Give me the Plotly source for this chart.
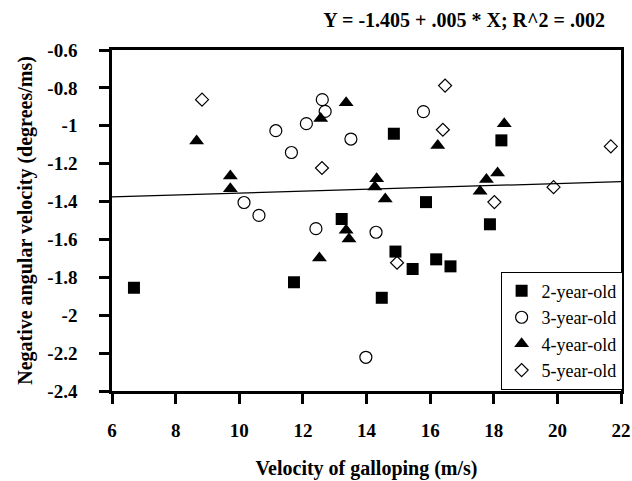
import plotly.graph_objects as go

# 2-year-old
x2 = [6.69, 11.72, 13.22, 14.86, 14.91, 14.48, 15.45, 15.87, 16.19, 16.64, 17.88, 18.24]
y2 = [-1.855, -1.826, -1.492, -1.042, -1.664, -1.908, -1.756, -1.403, -1.705, -1.742, -1.520, -1.077]
# 3-year-old
x3 = [10.15, 10.62, 11.15, 11.64, 12.11, 12.41, 12.61, 12.70, 13.51, 13.98, 14.30, 15.79]
y3 = [-1.405, -1.473, -1.026, -1.141, -0.989, -1.543, -0.862, -0.924, -1.070, -2.222, -1.562, -0.925]
# 4-year-old
x4 = [8.66, 9.72, 9.72, 12.52, 12.56, 13.36, 13.36, 13.45, 14.32, 14.26, 14.59, 16.24, 17.57, 17.77, 18.12, 18.33]
y4 = [-1.080, -1.265, -1.332, -1.698, -0.961, -0.878, -1.552, -1.598, -1.279, -1.323, -1.386, -1.104, -1.346, -1.284, -1.249, -0.989]
# 5-year-old
x5 = [8.83, 12.60, 14.96, 16.47, 16.40, 18.02, 19.88, 21.68]
y5 = [-0.862, -1.223, -1.723, -0.788, -1.021, -1.403, -1.324, -1.109]

intercept = -1.405
slope = 0.005
line_x = [6, 22]

x_ticks = [6, 8, 10, 12, 14, 16, 18, 20, 22]
y_ticks = [-0.6, -0.8, -1.0, -1.2, -1.4, -1.6, -1.8, -2.0, -2.2, -2.4]
y_ticktext = ["-0.6", "-0.8", "-1", "-1.2", "-1.4", "-1.6", "-1.8", "-2", "-2.2", "-2.4"]

serif = "Liberation Serif"

fig = go.Figure()
fig.add_trace(go.Scatter(x=line_x, y=[intercept + slope * v for v in line_x], mode="lines",
                         line=dict(color="black", width=1.3), showlegend=False, hoverinfo="skip"))
fig.add_trace(go.Scatter(x=x2, y=y2, mode="markers", name="2-year-old",
                         marker=dict(symbol="square", size=12, color="black")))
fig.add_trace(go.Scatter(x=x3, y=y3, mode="markers", name="3-year-old",
                         marker=dict(symbol="circle-open", size=12, color="black", line=dict(width=1.2))))
fig.add_trace(go.Scatter(x=x4, y=y4, mode="markers", name="4-year-old",
                         marker=dict(symbol="triangle-up", size=13, color="black")))
fig.add_trace(go.Scatter(x=x5, y=y5, mode="markers", name="5-year-old",
                         marker=dict(symbol="diamond-open", size=10, color="black", line=dict(width=1.2))))

fig.update_layout(
    width=632, height=481,
    margin=dict(l=112, r=10, t=50, b=90),
    plot_bgcolor="white", paper_bgcolor="white",
    font=dict(family=serif, color="black", size=16),
    title=dict(text="<b>Y = -1.405 + .005 * X; R^2 = .002</b>", x=605 / 632, xanchor="right",
               xref="container", y=1 - 20 / 481, yanchor="middle", yref="container",
               font=dict(family=serif, size=20, color="black")),
    showlegend=True,
    legend=dict(x=0.762, y=0.35, xanchor="left", yanchor="top",
                bordercolor="black", borderwidth=1, bgcolor="white",
                font=dict(family=serif, size=18, color="black"),
                itemwidth=30),
)
fig.update_xaxes(range=[6, 22], tickvals=x_ticks, ticktext=[f"<b>{v}</b>" for v in x_ticks],
                 showline=True, linecolor="black", linewidth=2.5, mirror=True,
                 ticks="outside", ticklen=10, tickwidth=2.5, tickcolor="black",
                 showgrid=False, zeroline=False, automargin=False, ticklabelstandoff=10,
                 tickfont=dict(family=serif, size=19, color="black"),
                 title=dict(text="<b>Velocity of galloping (m/s)</b>", standoff=22,
                            font=dict(family=serif, size=20, color="black")))
fig.update_yaxes(range=[-2.4, -0.6], tickvals=y_ticks, ticktext=[f"<b>{t}</b>" for t in y_ticktext],
                 showline=True, linecolor="black", linewidth=2.5, mirror=True,
                 ticks="outside", ticklen=10, tickwidth=2.5, tickcolor="black",
                 showgrid=False, zeroline=False, automargin=False, ticklabelstandoff=18,
                 tickfont=dict(family=serif, size=19, color="black"),
                 title=dict(text="<b>Negative angular velocity (degrees/ms)</b>", standoff=10,
                            font=dict(family=serif, size=20, color="black")))

fig.write_html("out.html")
